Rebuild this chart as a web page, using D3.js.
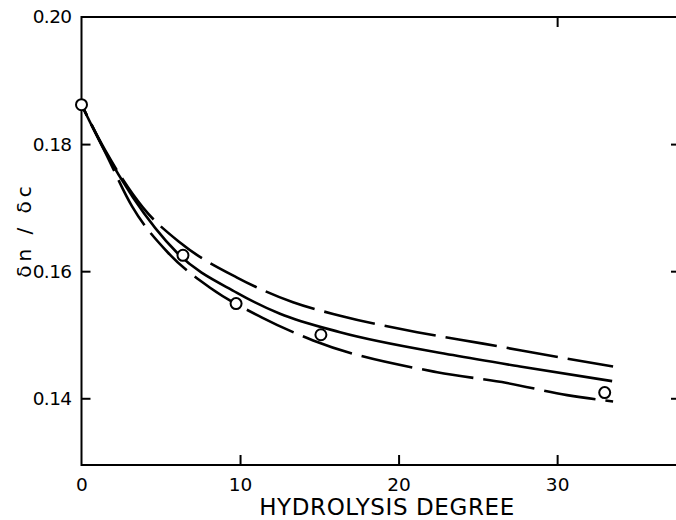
<!DOCTYPE html>
<html><head><meta charset="utf-8">
<script src="https://cdn.jsdelivr.net/npm/d3@7/dist/d3.min.js"></script>
<style>
html,body{margin:0;padding:0;background:#fff;}
svg text{font-family:"DejaVu Sans",sans-serif;fill:#000;}
</style></head>
<body><svg id="c" width="676" height="520"></svg>
<script>
// Measured points (hydrolysis degree, dn/dc)
const pointsX = [0, 6.4, 9.75, 15.1, 33.0];
const pointsY = [0.1862, 0.1625, 0.1549, 0.1500, 0.1409];

// Upper dashed curve
const upperX = [0, 1.5, 3.88, 6.21, 9.81, 13.34, 16.31, 21.17, 25.33, 30.5, 33.53];
const upperY = [0.1862, 0.1790, 0.1700, 0.1645, 0.1590, 0.1551, 0.1530, 0.1504, 0.1486, 0.1463, 0.1450];

// Solid middle curve
const solidX = [0, 1.5, 3.25, 6.03, 9.81, 12.52, 16.31, 23.43, 27.66, 33.47];
const solidY = [0.1862, 0.1788, 0.1716, 0.1629, 0.1566, 0.1533, 0.1504, 0.1468, 0.1450, 0.1427];

// Lower dashed curve
const lowerX = [0, 1.5, 3.19, 5.46, 8.11, 11.39, 14.61, 22.43, 26.84, 30.63, 33.53];
const lowerY = [0.1862, 0.1787, 0.1702, 0.1629, 0.1574, 0.1527, 0.1491, 0.1441, 0.1424, 0.1405, 0.1395];

const xTicks = [0, 10, 20, 30];
const xTopTicks = [30];
const yTicks = [0.14, 0.16, 0.18, 0.20];
const yRightTicks = [0.14, 0.16, 0.18];
const xTitle = "HYDROLYSIS DEGREE";
const yTitle = "δn / δc";

const svg = d3.select("#c");
const x = d3.scaleLinear().domain([0, 37.75]).range([81.5, 680]);
const y = d3.scaleLinear().domain([0.1295, 0.20]).range([465, 17]);

const ink = "#000";
// frame
const g = svg.append("g");
g.append("line").attr("x1", x(0)).attr("x2", x(0)).attr("y1", y(0.20) - 1).attr("y2", y(0.1295) + 1).attr("stroke", ink).attr("stroke-width", 2);
g.append("line").attr("x1", x(0)).attr("x2", x(37.75)).attr("y1", y(0.1295)).attr("y2", y(0.1295)).attr("stroke", ink).attr("stroke-width", 2);
g.append("line").attr("x1", x(0)).attr("x2", x(37.75)).attr("y1", y(0.20)).attr("y2", y(0.20)).attr("stroke", ink).attr("stroke-width", 2);
g.append("line").attr("x1", x(37.75)).attr("x2", x(37.75)).attr("y1", y(0.20)).attr("y2", y(0.1295)).attr("stroke", ink).attr("stroke-width", 2);

// axes via d3
const axBottom = svg.append("g").attr("transform", `translate(0,${y(0.1295)})`)
  .call(d3.axisBottom(x).tickValues(xTicks).tickFormat(d3.format("d")).tickSizeInner(-10).tickSizeOuter(0).tickPadding(13));
const axTop = svg.append("g").attr("transform", `translate(0,${y(0.20)})`)
  .call(d3.axisTop(x).tickValues(xTopTicks).tickFormat("").tickSizeInner(-10).tickSizeOuter(0));
const axLeft = svg.append("g").attr("transform", `translate(${x(0)},0)`)
  .call(d3.axisLeft(y).tickValues(yTicks).tickFormat(d3.format(".2f")).tickSizeInner(-9).tickSizeOuter(0).tickPadding(10));
const axRight = svg.append("g").attr("transform", `translate(${x(37.75)},0)`)
  .call(d3.axisRight(y).tickValues(yRightTicks).tickFormat("").tickSizeInner(-9).tickSizeOuter(0));
[axBottom, axTop, axLeft, axRight].forEach(a => {
  a.select(".domain").remove();
  a.selectAll(".tick line").attr("stroke", ink).attr("stroke-width", 2);
  a.selectAll("text").attr("font-size", 18.5).attr("font-family", "DejaVu Sans").attr("fill", ink);
});
axLeft.selectAll("text").attr("letter-spacing", -0.6);
axLeft.selectAll(".tick").filter(d => d === 0.20).select("line").remove();
axBottom.selectAll(".tick").filter(d => d === 0).select("line").remove();

// curves
const line = d3.line().x(d => x(d[0])).y(d => y(d[1])).curve(d3.curveMonotoneX);
const series = [
  {xs: upperX, ys: upperY, dash: "52,10"},
  {xs: solidX, ys: solidY, dash: null},
  {xs: lowerX, ys: lowerY, dash: "52,10"}
];
series.forEach(s => {
  const pts = s.xs.map((v, i) => [v, s.ys[i]]);
  const p = svg.append("path").datum(pts).attr("d", line)
    .attr("fill", "none").attr("stroke", ink).attr("stroke-width", 2.6);
  if (s.dash) p.attr("stroke-dasharray", s.dash).attr("stroke-dashoffset", -22);
});

// points
svg.append("g").selectAll("circle").data(pointsX.map((v, i) => [v, pointsY[i]]))
  .join("circle").attr("cx", d => x(d[0])).attr("cy", d => y(d[1])).attr("r", 5.5)
  .attr("fill", "#fff").attr("stroke", ink).attr("stroke-width", 2);

// titles
svg.append("text").attr("x", 387).attr("y", 515).attr("text-anchor", "middle")
  .attr("font-size", 23).attr("letter-spacing", 0.6).text(xTitle);
svg.append("text").attr("transform", "translate(31,230) rotate(-90)").attr("text-anchor", "middle")
  .attr("font-size", 20).attr("letter-spacing", 4).text(yTitle);
</script></body></html>
